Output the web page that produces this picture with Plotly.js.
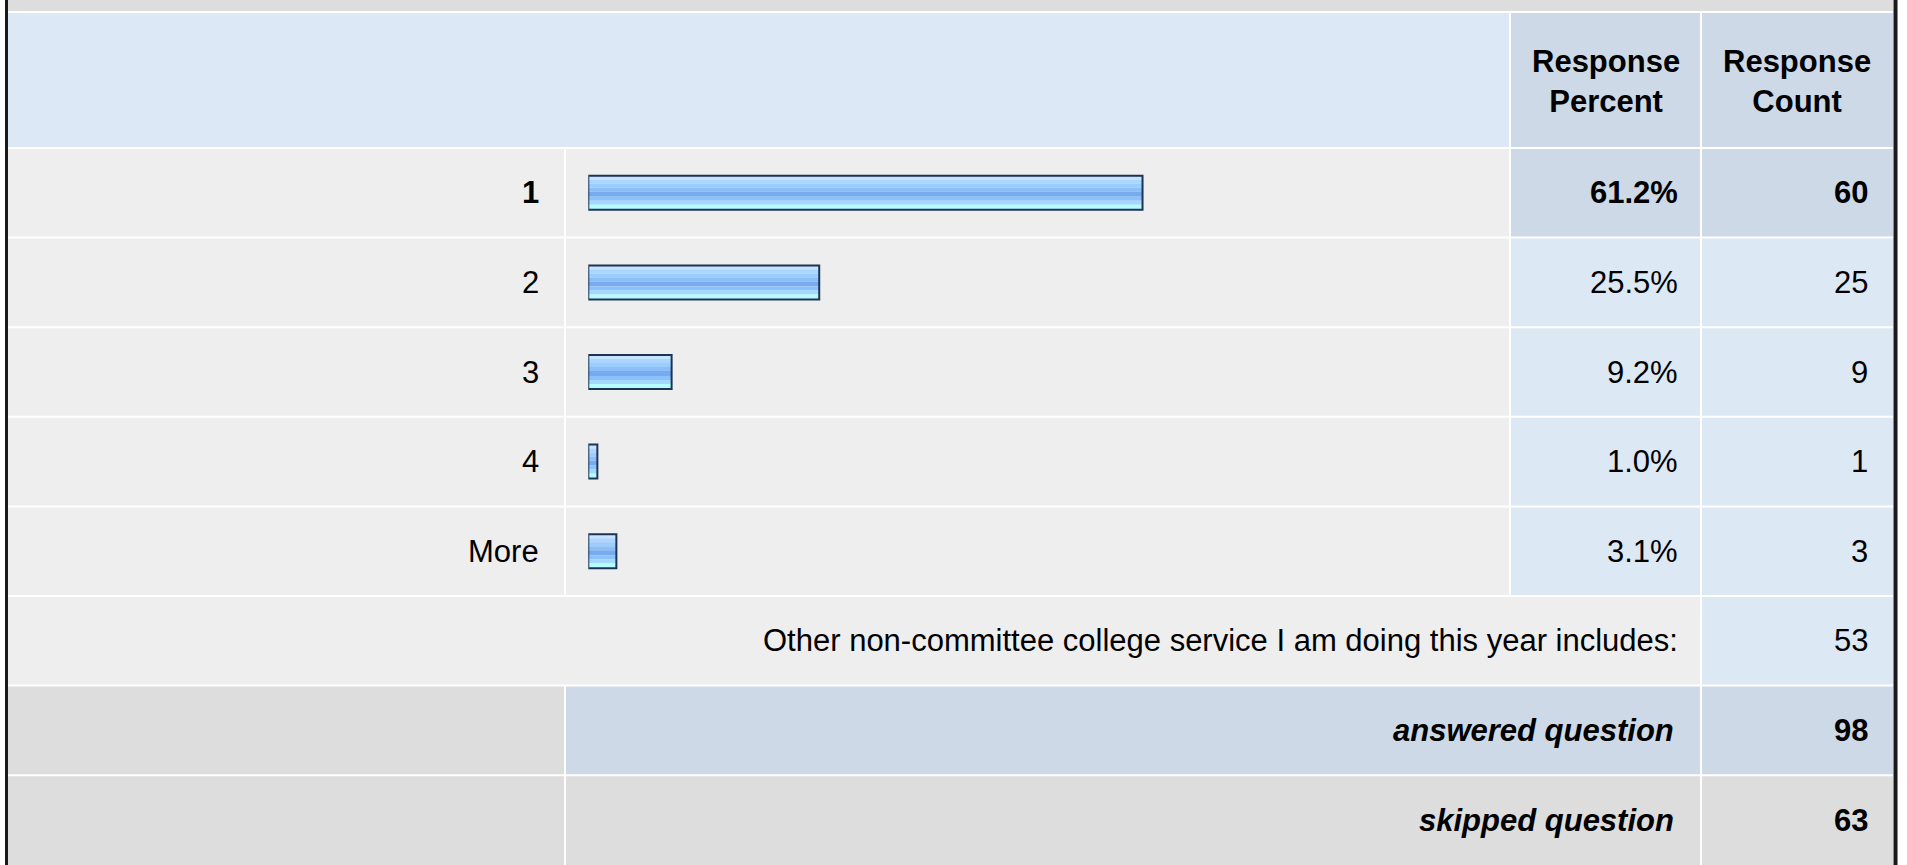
<!DOCTYPE html>
<html><head><meta charset="utf-8">
<script src="https://cdn.plot.ly/plotly-3.0.1.min.js"></script>
<style>html,body{margin:0;padding:0;background:#fff;overflow:hidden;}#chart{width:1907px;height:865px;}</style>
</head><body><div id="chart"></div>
<script>
// ---------- data ----------
const answerChoices = ['1', '2', '3', '4', 'More'];
const responsePercent = [61.2, 25.5, 9.2, 1.0, 3.1];
const responseCount = [60, 25, 9, 1, 3];
const headerLabels = ['Response<br>Percent', 'Response<br>Count'];
const otherLabel = 'Other non-committee college service I am doing this year includes:';
const otherCount = 53;
const summaryLabels = ['answered question', 'skipped question'];
const summaryCounts = [98, 63];
const topChoice = '1';

// ---------- geometry / style ----------
const W = 1907, H = 865;
const px = p => p / W;
const py = p => 1 - p / H;
const ROW_H = 89.6;
const HEAD_TOP = 12, HEAD_BOT = 148;
const B = [];
for (let i = 0; i <= 8; i++) B.push(HEAD_BOT + ROW_H * i);
const COL = {left: 8, c1: 565, c2: 1510, c3: 1701, right: 1893};
const GAP = 1;
const C = {band: '#dddddd', head: '#dce8f5', headDark: '#cdd9e6', row: '#eeeeee', cellBlue: '#dde8f5', sumGray: '#dddddd'};
const FONT = 'Liberation Sans, Arial, Helvetica, sans-serif';
const FS = 31;
const X0 = 588.3, X100 = 1493.9; // pixel position of 0% and 100%

const shapes = [];
function rect(x0, x1, y0, y1, color) {
  shapes.push({type: 'rect', xref: 'paper', yref: 'paper', layer: 'below',
    x0: px(x0), x1: px(x1), y0: py(y1), y1: py(y0), fillcolor: color, line: {width: 0}});
}
// top band
rect(COL.left, COL.right, 0, HEAD_TOP - GAP, C.band);
// header
rect(COL.left, COL.c2 - GAP, HEAD_TOP + GAP, HEAD_BOT - GAP, C.head);
rect(COL.c2 + GAP, COL.c3 - GAP, HEAD_TOP + GAP, HEAD_BOT - GAP, C.headDark);
rect(COL.c3 + GAP, COL.right, HEAD_TOP + GAP, HEAD_BOT - GAP, C.headDark);
// choice rows
answerChoices.forEach((c, i) => {
  const y0 = B[i] + GAP, y1 = B[i + 1] - GAP;
  const blue = c === topChoice ? C.headDark : C.cellBlue;
  rect(COL.left, COL.c1 - GAP, y0, y1, C.row);
  rect(COL.c1 + GAP, COL.c2 - GAP, y0, y1, C.row);
  rect(COL.c2 + GAP, COL.c3 - GAP, y0, y1, blue);
  rect(COL.c3 + GAP, COL.right, y0, y1, blue);
});
// other row
rect(COL.left, COL.c3 - GAP, B[5] + GAP, B[6] - GAP, C.row);
rect(COL.c3 + GAP, COL.right, B[5] + GAP, B[6] - GAP, C.cellBlue);
// answered
rect(COL.left, COL.c1 - GAP, B[6] + GAP, B[7] - GAP, C.sumGray);
rect(COL.c1 + GAP, COL.c3 - GAP, B[6] + GAP, B[7] - GAP, C.headDark);
rect(COL.c3 + GAP, COL.right, B[6] + GAP, B[7] - GAP, C.headDark);
// skipped
rect(COL.left, COL.c1 - GAP, B[7] + GAP, H + 5, C.sumGray);
rect(COL.c1 + GAP, COL.c3 - GAP, B[7] + GAP, H + 5, C.sumGray);
rect(COL.c3 + GAP, COL.right, B[7] + GAP, H + 5, C.sumGray);
// outer borders
shapes.push({type: 'line', xref: 'paper', yref: 'paper', layer: 'above', x0: px(6.5), x1: px(6.5), y0: 0, y1: 1, line: {color: '#1a1a1a', width: 3}});
shapes.push({type: 'line', xref: 'paper', yref: 'paper', layer: 'above', x0: px(1895.5), x1: px(1895.5), y0: 0, y1: 1, line: {color: '#1a1a1a', width: 4}});

// ---------- bars (stripes to imitate gradient) ----------
const k = 1 / ROW_H; // category units per pixel
const BAR_PX = 36;
const stripes = [
  [1, 5, '#c6e4ff'], [5, 9, '#acd6ff'], [9, 13, '#9ccdff'], [13, 17, '#8cbef7'],
  [17, 22, '#77abef'], [22, 26, '#8cc2fb'], [26, 30, '#a4d8ff'], [30, 35, '#b4fcff']
];
const traces = stripes.map(s => ({
  type: 'bar', orientation: 'h', x: responsePercent, y: answerChoices,
  offset: (s[0] - BAR_PX / 2) * k, width: (s[1] - s[0]) * k,
  marker: {color: s[2], line: {width: 0}}, hoverinfo: 'skip', showlegend: false
}));
traces.push({
  type: 'bar', orientation: 'h', x: responsePercent, y: answerChoices,
  offset: (1 - BAR_PX / 2) * k, width: (BAR_PX - 2) * k,
  marker: {color: 'rgba(0,0,0,0)', line: {width: 2, color: '#1c3557'}},
  hoverinfo: 'skip', showlegend: false
});

// ---------- texts ----------
const ann = [];
function txt(text, xpx, y, yref, xanchor) {
  ann.push({text: text, x: px(xpx), xref: 'paper', y: y, yref: yref, xanchor: xanchor || 'right',
    yanchor: 'middle', showarrow: false, font: {family: FONT, size: FS, color: '#000'}, align: 'center'});
}
txt('<b>' + headerLabels[0] + '</b>', (COL.c2 + COL.c3) / 2, py(82), 'paper', 'center');
txt('<b>' + headerLabels[1] + '</b>', (COL.c3 + COL.right) / 2, py(82), 'paper', 'center');
answerChoices.forEach((c, i) => {
  const b = c === topChoice;
  const w = s => b ? '<b>' + s + '</b>' : s;
  // category axis: annotation position given by category index
  txt(w(c), 541, i, 'y');
  txt(w(responsePercent[i].toFixed(1) + '%'), 1680, i, 'y');
  txt(w(String(responseCount[i])), 1870, i, 'y');
});
txt(otherLabel, 1680, py((B[5] + B[6]) / 2), 'paper');
txt(String(otherCount), 1870, py((B[5] + B[6]) / 2), 'paper');
summaryLabels.forEach((s, j) => {
  const yc = py((B[6 + j] + B[7 + j]) / 2);
  txt('<b><i>' + s + '</i></b>', 1676, yc, 'paper');
  txt('<b>' + summaryCounts[j] + '</b>', 1870, yc, 'paper');
});

const layout = {
  width: W, height: H, margin: {l: 0, r: 0, t: 0, b: 0, pad: 0},
  paper_bgcolor: '#ffffff', plot_bgcolor: 'rgba(0,0,0,0)',
  barmode: 'overlay', showlegend: false,
  xaxis: {domain: [px(X0), px(X100)], range: [0, 100], visible: false, fixedrange: true},
  yaxis: {domain: [py(B[5]), py(B[0])], type: 'category', categoryorder: 'array',
    categoryarray: answerChoices, range: [4.5, -0.5], visible: false, fixedrange: true},
  shapes: shapes, annotations: ann
};
Plotly.newPlot('chart', traces, layout, {displayModeBar: false, staticPlot: true});
</script>
</body></html>
